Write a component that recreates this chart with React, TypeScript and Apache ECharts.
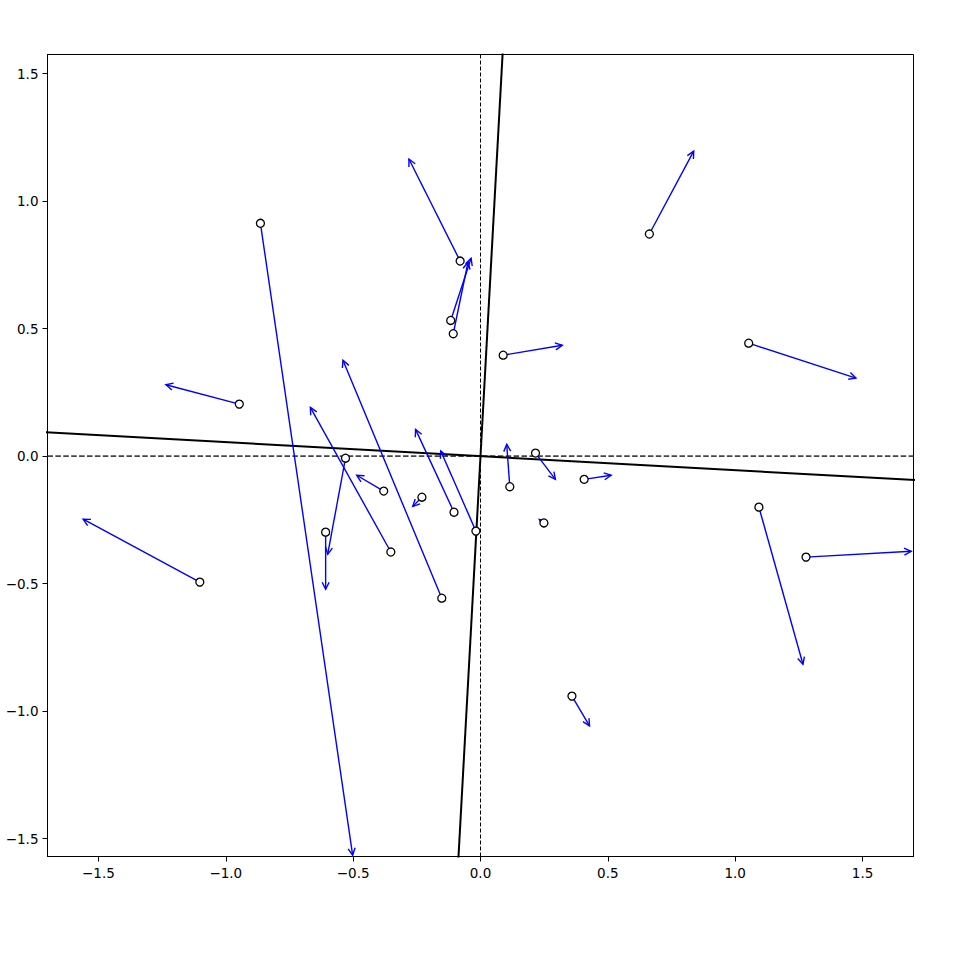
import React, { useEffect, useRef } from "react";
import * as echarts from "echarts";

// Arrow origins (circles) and arrow tips, in data units
const startX = [-0.864, -0.080, 0.663, -0.117, -0.107, 0.089, 1.053, -0.947, -1.102, -0.530, -0.608, -0.380, -0.352, -0.152, -0.230, -0.104, -0.018, 0.115, 0.216, 0.249, 0.407, 1.093, 1.278, 0.359];
const startY = [0.913, 0.765, 0.871, 0.532, 0.480, 0.396, 0.443, 0.204, -0.494, -0.008, -0.298, -0.137, -0.376, -0.557, -0.161, -0.220, -0.294, -0.120, 0.012, -0.262, -0.091, -0.200, -0.396, -0.941];
const endX = [-0.502, -0.281, 0.837, -0.037, -0.049, 0.321, 1.474, -1.235, -1.560, -0.600, -0.608, -0.486, -0.668, -0.540, -0.266, -0.255, -0.156, 0.103, 0.294, 0.231, 0.513, 1.266, 1.691, 0.428];
const endY = [-1.565, 1.165, 1.196, 0.776, 0.761, 0.435, 0.306, 0.280, -0.247, -0.385, -0.522, -0.075, 0.191, 0.376, -0.197, 0.105, 0.020, 0.046, -0.091, -0.248, -0.075, -0.816, -0.373, -1.058];

// Principal axis directions
const pc1 = [1, -0.055];
const pc2 = [0.055, 1];

const tickValues = [-1.5, -1.0, -0.5, 0.0, 0.5, 1.0, 1.5];
const xRange = [-1.7, 1.7];
const yRange = [-1.57, 1.575];

export default function App() {
  const ref = useRef<HTMLDivElement>(null);
  useEffect(() => {
    document.body.style.margin = "0";
    const chart = echarts.init(ref.current!, null, { renderer: "svg" });
    const fmt = (v: number) => v.toFixed(1).replace("-", "\u2212");
    const arrows = startX.map((x, i) => [x, startY[i], endX[i], endY[i]]);
    const points = startX.map((x, i) => [x, startY[i]]);
    const axisCommon = {
      type: "value",
      splitLine: { show: false },
      axisLine: { show: true, onZero: false, lineStyle: { color: "#000", width: 1 } },
      axisTick: { show: true, customValues: tickValues, length: 5, lineStyle: { color: "#000", width: 1 } },
      axisLabel: {
        customValues: tickValues,
        formatter: fmt,
        margin: 9,
        color: "#000",
        fontSize: 13.5,
        fontFamily: "DejaVu Sans",
      },
    };
    chart.setOption({
      animation: false,
      grid: {
        left: 47.5,
        right: 46.5,
        top: 54.5,
        bottom: 103.5,
        show: true,
        borderColor: "#000",
        borderWidth: 1,
        backgroundColor: "transparent",
      },
      xAxis: { ...axisCommon, min: xRange[0], max: xRange[1] },
      yAxis: { ...axisCommon, min: yRange[0], max: yRange[1] },
      series: [
        {
          type: "line",
          data: [[0, yRange[0]], [0, yRange[1]]],
          showSymbol: false,
          silent: true,
          lineStyle: { color: "#000", width: 1, type: [4, 2] },
          z: 1,
        },
        {
          type: "line",
          data: [[xRange[0], 0], [xRange[1], 0]],
          showSymbol: false,
          silent: true,
          lineStyle: { color: "#444", width: 1.6, type: [5.5, 2.4] },
          z: 1,
        },
        {
          type: "line",
          data: [[-3 * pc1[0], -3 * pc1[1]], [3 * pc1[0], 3 * pc1[1]]],
          showSymbol: false,
          silent: true,
          clip: true,
          lineStyle: { color: "#000", width: 2 },
          z: 2,
        },
        {
          type: "line",
          data: [[-3 * pc2[0], -3 * pc2[1]], [3 * pc2[0], 3 * pc2[1]]],
          showSymbol: false,
          silent: true,
          clip: true,
          lineStyle: { color: "#000", width: 2 },
          z: 2,
        },
        {
          type: "custom",
          data: arrows,
          encode: { x: [0, 2], y: [1, 3] },
          z: 3,
          renderItem: (params: any, api: any) => {
            const p0 = api.coord([api.value(0), api.value(1)]);
            const p1 = api.coord([api.value(2), api.value(3)]);
            const dx = p1[0] - p0[0];
            const dy = p1[1] - p0[1];
            const len = Math.hypot(dx, dy) || 1;
            const ux = dx / len;
            const uy = dy / len;
            const hl = 7;
            const hw = 3.5;
            const bx = p1[0] - ux * hl;
            const by = p1[1] - uy * hl;
            const a = [bx - uy * hw, by + ux * hw];
            const b = [bx + uy * hw, by - ux * hw];
            return {
              type: "group",
              children: [
                {
                  type: "line",
                  shape: { x1: p0[0], y1: p0[1], x2: p1[0], y2: p1[1] },
                  style: { stroke: "#0000ff", lineWidth: 1.4 },
                },
                {
                  type: "polyline",
                  shape: { points: [a, p1, b] },
                  style: { stroke: "#0000ff", lineWidth: 1.4, fill: null },
                },
              ],
            };
          },
        },
        {
          type: "scatter",
          data: points,
          symbol: "circle",
          symbolSize: 8,
          itemStyle: { color: "#fff", borderColor: "#000", borderWidth: 1.3, opacity: 1 },
          z: 4,
        },
      ],
    });
    return () => chart.dispose();
  }, []);
  return <div ref={ref} style={{ width: 960, height: 960 }} />;
}
